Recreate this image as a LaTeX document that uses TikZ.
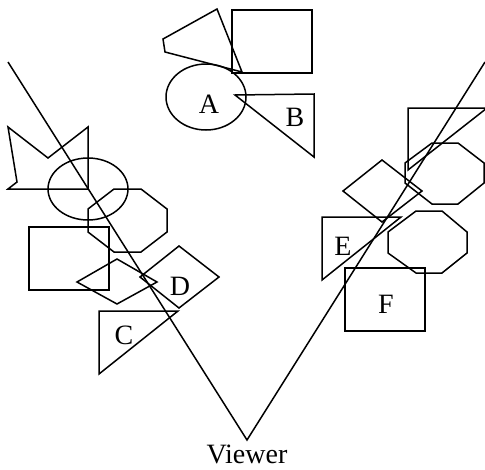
\documentclass[tikz,border=0pt]{standalone}
\usepackage{fontspec}
\setmainfont{Liberation Serif}
\begin{document}
\begin{tikzpicture}[x=1pt,y=-1pt,
  shp/.style={draw=black,line width=1.5pt,line join=miter},
  lbl/.style={font=\fontsize{28}{30}\selectfont,inner sep=0pt}]
\useasboundingbox (0,0) rectangle (485,469);
% top group
\draw[shp] (217,9) -- (163,39) -- (165,52) -- (242,72) -- cycle;
\draw[shp] (232,10) rectangle (312,73);
\draw[shp] (206,97) ellipse [x radius=40, y radius=33];
\draw[shp] (235,95) -- (314,94) -- (314,157) -- cycle;
\node[lbl] (A) at (209,104) {A};
\node[lbl] (B) at (295,117) {B};
% left group
\draw[shp] (8,127) -- (48,158) -- (88,127) -- (88,189) -- (8,189) -- (17,182) -- cycle;
\draw[shp] (88,189) ellipse [x radius=40, y radius=31];
\draw[shp] (114,189) -- (141,189) -- (167,209) -- (167,232) -- (141,252) -- (114,252) -- (88,232) -- (88,209) -- cycle;
\draw[shp] (29,227) rectangle (109,290);
\draw[shp] (77,282) -- (117,259) -- (157,282) -- (117,304) -- cycle;
\draw[shp] (140,277) -- (179,246) -- (219,277) -- (179,308) -- cycle;
\draw[shp] (99,311) -- (178,311) -- (99,374) -- cycle;
\node[lbl] (D) at (180,286) {D};
\node[lbl] (C) at (124,335) {C};
% right group
\begin{scope}
\clip (0,0) rectangle (485,469);
\draw[shp] (408,108) -- (487,108) -- (408,170) -- cycle;
\end{scope}
\draw[shp] (432,143) -- (458,143) -- (484,163) -- (484,183) -- (458,204) -- (432,204) -- (405,183) -- (405,163) -- cycle;
\draw[shp] (343,191) -- (382,160) -- (422,191) -- (382,222) -- cycle;
\draw[shp] (322,217) -- (401,217) -- (322,280) -- cycle;
\draw[shp] (416,211) -- (442,211) -- (467,232) -- (467,253) -- (442,273) -- (416,273) -- (388,253) -- (388,232) -- cycle;
\draw[shp] (345,268) rectangle (425,331);
\node[lbl] (E) at (343,246) {E};
\node[lbl] (F) at (386,304) {F};
% viewer
\coordinate (V) at (247,440);
\coordinate (L) at (8,62);
\coordinate (R) at (485,62);
\draw[shp] (L) -- (V) -- (R);
\node[lbl] (viewer) at (247,454) {Viewer};
\end{tikzpicture}
\end{document}
